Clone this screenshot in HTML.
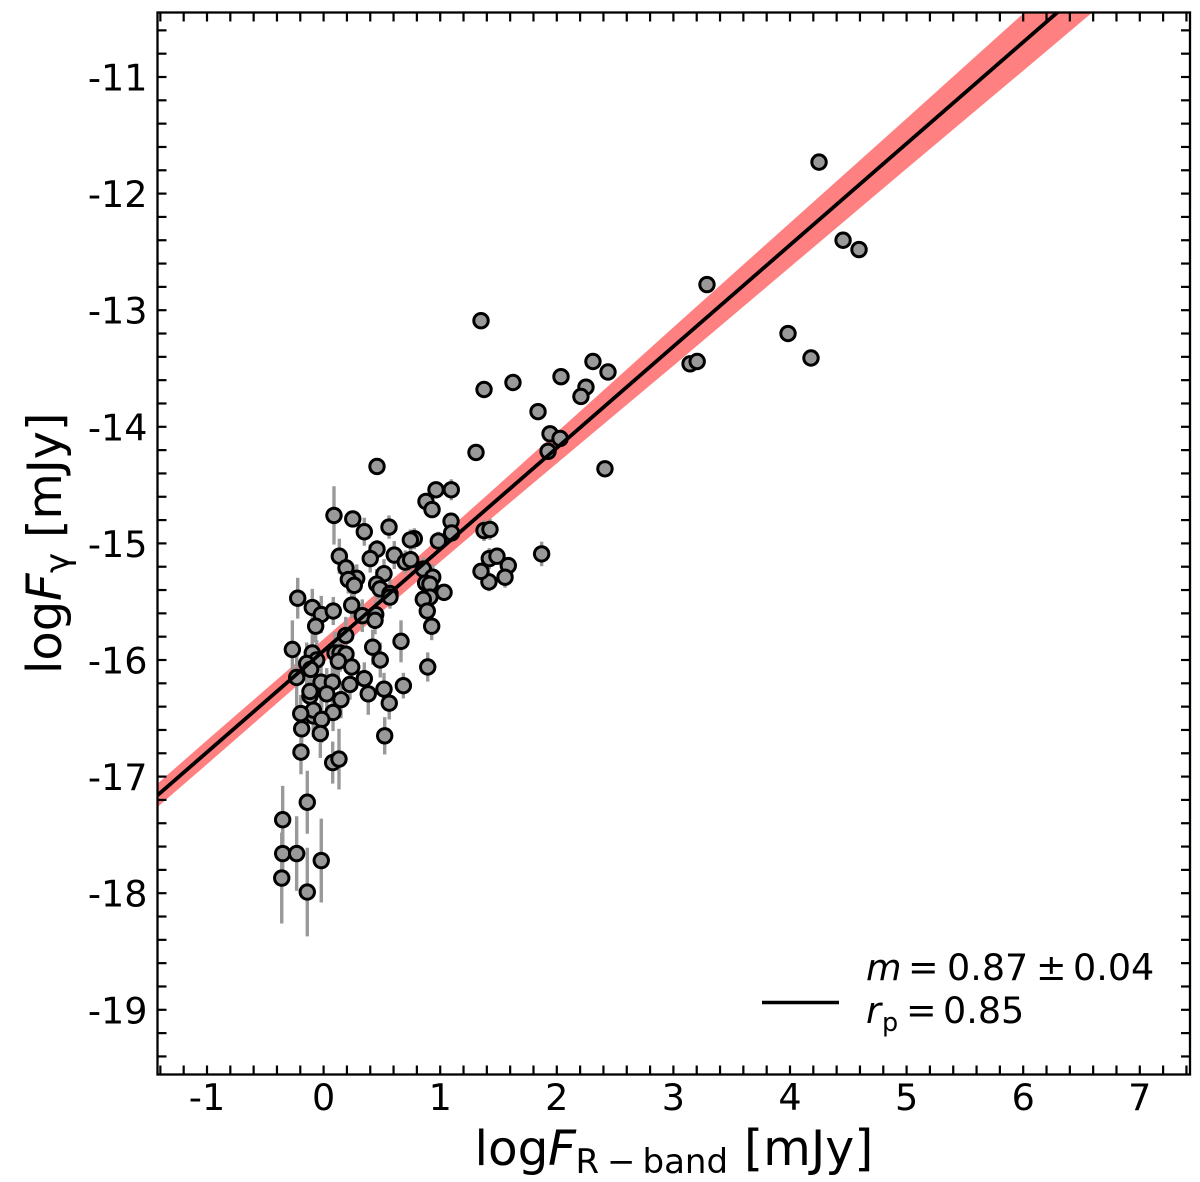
<!DOCTYPE html>
<html lang="en">
<head>
<meta charset="utf-8">
<title>Gamma-ray flux vs R-band flux</title>
<style>
html,body{margin:0;padding:0;background:#fff;}
svg{display:block;font-family:"DejaVu Sans",sans-serif;}
</style>
</head>
<body>
<svg id="chart" xmlns="http://www.w3.org/2000/svg" width="1200" height="1182" viewBox="0 0 1200 1182">
  <defs>
    <clipPath id="plot-clip"><rect x="157.5" y="12.5" width="1032.5" height="1062"></rect></clipPath>
  </defs>
  <g id="band-layer" clip-path="url(#plot-clip)"></g>
  <g id="err-layer" clip-path="url(#plot-clip)"></g>
  <g id="pt-layer" clip-path="url(#plot-clip)"></g>
  <g id="fit-layer" clip-path="url(#plot-clip)"></g>
  <g id="tick-layer"></g>
  <rect x="157.5" y="12.5" width="1032.5" height="1062" fill="none" stroke="#000" stroke-width="2.3"></rect>
  <g id="label-layer" font-size="36.5" fill="#000"></g>

  <text y="1165" font-size="48.5" fill="#000"><tspan x="474.5">log</tspan><tspan x="548" font-style="italic">F</tspan><tspan x="575.5" y="1173" font-size="34">R</tspan><tspan x="607" y="1173" font-size="34">−</tspan><tspan x="642.5" y="1173" font-size="34">band</tspan><tspan x="744" y="1165" font-size="49">[mJy]</tspan></text>

  <text transform="translate(61,0) rotate(-90)" font-size="48" fill="#000"><tspan x="-674" y="0">log</tspan><tspan x="-601" y="0" font-style="italic">F</tspan><tspan x="-573" y="8" font-size="34">γ</tspan><tspan x="-538" y="0" font-size="47.5">[mJy]</tspan></text>

  <g font-size="36.5" fill="#000">
    <line x1="762" y1="1002.5" x2="839" y2="1002.5" stroke="#000" stroke-width="3.6"></line>
    <text y="980"><tspan x="866" font-style="italic">m</tspan><tspan x="908">=</tspan><tspan x="947">0.87</tspan><tspan x="1036">±</tspan><tspan x="1073">0.04</tspan></text>
    <text y="1023"><tspan x="866" font-style="italic">r</tspan><tspan x="882" y="1031" font-size="25.5">p</tspan><tspan x="906" y="1023">=</tspan><tspan x="943" y="1023">0.85</tspan></text>
  </g>
</svg>
<script>
const xValues = [4.249,4.455,4.592,3.288,3.983,4.18,3.143,3.204,1.35,1.376,1.624,1.839,2.036,2.31,2.25,2.207,2.439,1.942,2.028,1.925,2.413,1.307,0.458,0.964,1.095,0.878,0.93,0.089,0.25,0.349,0.561,1.093,1.098,0.984,0.778,0.744,1.376,1.427,0.458,0.4,0.135,0.606,0.70,0.747,0.855,0.518,0.192,0.284,0.212,0.263,0.455,0.484,0.936,0.875,0.912,1.033,0.912,0.855,0.889,0.927,0.569,0.569,0.241,-0.222,-0.097,-0.02,0.083,-0.068,0.332,0.447,0.441,0.19,0.664,0.421,0.486,-0.268,-0.097,0.098,0.141,0.192,-0.059,0.126,-0.145,-0.111,0.241,0.893,-0.231,0.684,0.349,0.226,0.518,0.383,0.563,-0.022,0.075,0.149,0.027,-0.117,-0.117,0.081,-0.088,-0.088,-0.196,-0.016,-0.188,-0.028,-0.194,0.078,0.132,0.524,-0.14,-0.351,-0.351,-0.231,-0.02,-0.359,-0.14,1.421,1.487,1.584,1.556,1.418,1.35,1.87];
const yValues = [-11.73,-12.40,-12.48,-12.78,-13.20,-13.41,-13.46,-13.44,-13.09,-13.68,-13.62,-13.87,-13.57,-13.44,-13.66,-13.74,-13.53,-14.06,-14.10,-14.21,-14.36,-14.22,-14.34,-14.54,-14.54,-14.64,-14.71,-14.76,-14.79,-14.90,-14.86,-14.81,-14.91,-14.98,-14.96,-14.97,-14.89,-14.88,-15.05,-15.13,-15.11,-15.10,-15.16,-15.14,-15.22,-15.26,-15.21,-15.30,-15.31,-15.36,-15.35,-15.39,-15.29,-15.34,-15.35,-15.42,-15.46,-15.48,-15.58,-15.71,-15.43,-15.46,-15.53,-15.47,-15.55,-15.61,-15.58,-15.71,-15.62,-15.61,-15.66,-15.79,-15.84,-15.89,-16.00,-15.91,-15.94,-15.94,-15.94,-15.95,-16.0,-16.01,-16.03,-16.08,-16.06,-16.06,-16.15,-16.22,-16.16,-16.21,-16.25,-16.29,-16.37,-16.19,-16.19,-16.34,-16.29,-16.31,-16.27,-16.45,-16.48,-16.43,-16.46,-16.51,-16.59,-16.63,-16.79,-16.88,-16.85,-16.65,-17.22,-17.37,-17.66,-17.66,-17.72,-17.87,-17.99,-15.13,-15.11,-15.19,-15.29,-15.33,-15.24,-15.09];
const yErrors = [0.03,0.03,0.03,0.03,0.03,0.03,0.03,0.03,0.03,0.03,0.03,0.03,0.03,0.03,0.03,0.03,0.03,0.03,0.03,0.03,0.04,0.03,0.04,0.05,0.09,0.05,0.05,0.25,0.06,0.12,0.10,0.06,0.08,0.08,0.09,0.09,0.09,0.09,0.08,0.12,0.15,0.12,0.10,0.10,0.10,0.125,0.11,0.12,0.12,0.13,0.13,0.13,0.11,0.12,0.12,0.06,0.13,0.12,0.12,0.12,0.12,0.10,0.11,0.175,0.16,0.16,0.12,0.14,0.14,0.12,0.12,0.16,0.18,0.15,0.15,0.25,0.22,0.18,0.16,0.14,0.17,0.20,0.18,0.20,0.12,0.125,0.25,0.11,0.14,0.13,0.14,0.18,0.14,0.24,0.22,0.16,0.22,0.20,0.20,0.16,0.18,0.18,0.16,0.20,0.18,0.21,0.19,0.18,0.26,0.16,0.27,0.29,0.25,0.32,0.36,0.39,0.38,0.09,0.06,0.06,0.09,0.08,0.06,0.105];

const bandX = [-1.43,-1,0,0.66,1.5,2,3,4,5,6,7,7.43];
const bandUpper = [-17.065,-16.688,-15.821,-15.247,-14.498,-14.048,-13.146,-12.251,-11.356,-10.456,-9.559,-9.172];
const bandLower = [-17.265,-16.894,-16.021,-15.447,-14.734,-14.314,-13.476,-12.631,-11.786,-10.946,-10.103,-9.742];

const fitX = [-1.43,7.43];
const fitY = [-17.165,-9.457];

const xTickLabels = ["-1","0","1","2","3","4","5","6","7"];
const yTickLabels = ["-19","-18","-17","-16","-15","-14","-13","-12","-11"];
const xMajorTicks = [-1,0,1,2,3,4,5,6,7];
const yMajorTicks = [-19,-18,-17,-16,-15,-14,-13,-12,-11];
const xMinorStarts = [-1.4,-1.2,-0.8,-0.6,-0.4,-0.2,0.2,0.4,0.6,0.8,1.2,1.4,1.6,1.8,2.2,2.4,2.6,2.8,3.2,3.4,3.6,3.8,4.2,4.4,4.6,4.8,5.2,5.4,5.6,5.8,6.2,6.4,6.6,6.8,7.2,7.4];
const yMinorStarts = [-19.4,-19.2,-18.8,-18.6,-18.4,-18.2,-17.8,-17.6,-17.4,-17.2,-16.8,-16.6,-16.4,-16.2,-15.8,-15.6,-15.4,-15.2,-14.8,-14.6,-14.4,-14.2,-13.8,-13.6,-13.4,-13.2,-12.8,-12.6,-12.4,-12.2,-11.8,-11.6,-11.4,-11.2,-10.8,-10.6];

const NS = 'http://www.w3.org/2000/svg';
function xScale(v){ return 323.6 + 116.6 * v; }
function yScale(v){ return 660 - 116.6 * (v + 16); }
function make(tag, attrs, parent){
  const el = document.createElementNS(NS, tag);
  for (const k in attrs) el.setAttribute(k, attrs[k]);
  parent.appendChild(el);
  return el;
}

const bandLayer = document.getElementById('band-layer');
const errLayer = document.getElementById('err-layer');
const ptLayer = document.getElementById('pt-layer');
const fitLayer = document.getElementById('fit-layer');
const tickLayer = document.getElementById('tick-layer');
const labelLayer = document.getElementById('label-layer');

/* confidence band */
const upperPts = bandX.map((x, i) => xScale(x).toFixed(2) + ',' + yScale(bandUpper[i]).toFixed(2));
const lowerPts = bandX.map((x, i) => xScale(x).toFixed(2) + ',' + yScale(bandLower[i]).toFixed(2)).reverse();
const band = make('polygon', {points: upperPts.concat(lowerPts).join(' '), fill: '#ff8080'}, bandLayer);



/* error bars and points */
xValues.forEach((x, i) => {
  const bar = make('line', {
    x1: xScale(x), x2: xScale(x),
    y1: yScale(yValues[i] + yErrors[i]), y2: yScale(yValues[i] - yErrors[i]),
    stroke: '#999999', 'stroke-width': 3.4
  }, errLayer);
  
  
});
xValues.forEach((x, i) => {
  const dot = make('circle', {
    cx: xScale(x), cy: yScale(yValues[i]), r: 7.2,
    fill: '#999999', stroke: '#000', 'stroke-width': 3
  }, ptLayer);
  
  
});

/* fit line */
const fit = make('line', {
  x1: xScale(fitX[0]), y1: yScale(fitY[0]),
  x2: xScale(fitX[1]), y2: yScale(fitY[1]),
  stroke: '#000', 'stroke-width': 3.8
}, fitLayer);



/* ticks */
const TICK = 9, L = 157.5, R = 1190, T = 12.5, B = 1074.5;
xMajorTicks.concat(xMinorStarts).forEach(v => {
  const px = xScale(v);
  const bt = make('line', {x1: px, x2: px, y1: B, y2: B - TICK, stroke: '#000', 'stroke-width': 2.2}, tickLayer);
  
  
  const tt = make('line', {x1: px, x2: px, y1: T, y2: T + TICK, stroke: '#000', 'stroke-width': 2.2}, tickLayer);
  
  
});
yMajorTicks.concat(yMinorStarts).forEach(v => {
  const py = yScale(v);
  const lt = make('line', {x1: L, x2: L + TICK, y1: py, y2: py, stroke: '#000', 'stroke-width': 2.2}, tickLayer);
  
  
  const rt = make('line', {x1: R, x2: R - TICK, y1: py, y2: py, stroke: '#000', 'stroke-width': 2.2}, tickLayer);
  
  
});

/* tick labels */
xMajorTicks.forEach((v, i) => {
  const t = make('text', {x: xScale(v), y: 1110, 'text-anchor': 'middle'}, labelLayer);
  t.textContent = xTickLabels[i];
  
  
});
yMajorTicks.forEach((v, i) => {
  const t = make('text', {x: 147.5, y: yScale(v) + 13.5, 'text-anchor': 'end'}, labelLayer);
  t.textContent = yTickLabels[i];
  
  
});
</script>
</body>
</html>
